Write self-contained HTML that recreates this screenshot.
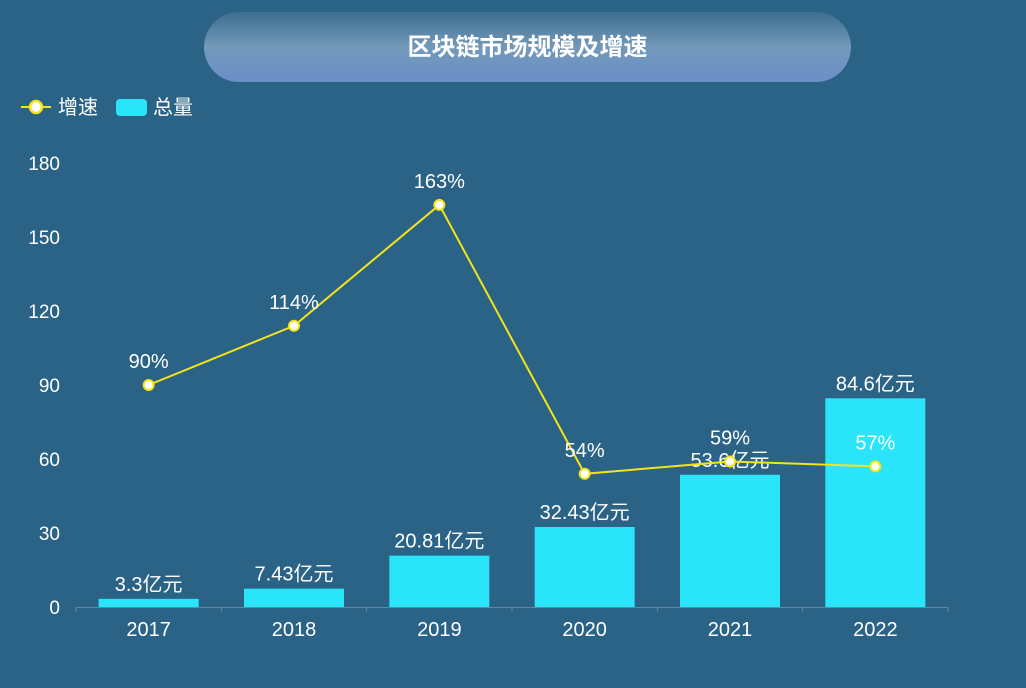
<!DOCTYPE html>
<html><head><meta charset="utf-8"><style>
body{margin:0;width:1026px;height:688px;background:#2a6385;overflow:hidden;font-family:"Liberation Sans","Noto Sans CJK SC",sans-serif}
#title{position:absolute;left:204px;top:12px;width:647px;height:70px;border-radius:35px;background:linear-gradient(180deg,#3c6e90 0%,#7399b9 50%,#6b8fc9 100%);color:#fff;font-size:24px;font-weight:bold;text-align:center;line-height:72px}
</style></head><body>
<div id="title">区块链市场规模及增速</div>
<svg id="c" width="1026" height="688" style="position:absolute;left:0;top:0"></svg>
<script>
const categories=["2017","2018","2019","2020","2021","2022"];
const totals=[3.3,7.43,20.81,32.43,53.6,84.6];
const growth=[90,114,163,54,59,57];
const yTicks=[0,30,60,90,120,150,180];
const NS="http://www.w3.org/2000/svg";
const svg=document.getElementById('c');
const x0=76,x1=948,y0=607,y1=163,yMax=180;
const band=(x1-x0)/categories.length;
const xc=i=>x0+band*(i+0.5);
const ys=v=>y0-(v/yMax)*(y0-y1);
function el(t,a,p){const e=document.createElementNS(NS,t);for(const k in a)e.setAttribute(k,a[k]);(p||svg).appendChild(e);return e;}
function txt(x,y,s,size,anchor){const t=el('text',{x:x,y:y,fill:'#fff','font-size':size,'text-anchor':anchor||'middle','font-family':'"Liberation Sans","Noto Sans CJK SC",sans-serif'});t.textContent=s;return t;}
// legend
const lg=el('g',{});


el('line',{x1:21,y1:107,x2:51,y2:107,stroke:'#f5e31a','stroke-width':2},lg);
el('circle',{cx:36,cy:107,r:6,fill:'#fff',stroke:'#f5e31a','stroke-width':2.5},lg);
const l1=txt(58,114,'增速',20,'start');lg.appendChild(l1);
el('rect',{x:116,y:99,width:31,height:17,rx:4,fill:'#2ae5fa'},lg);
const l2=txt(153,114,'总量',20,'start');lg.appendChild(l2);
// y ticks
yTicks.forEach(v=>{const t=txt(60,ys(v)+7,String(v),19,'end');});
// x axis
const ax=el('line',{x1:x0,y1:y0+0.5,x2:x1,y2:y0+0.5,stroke:'#5f88a8','stroke-width':1});


for(let i=0;i<=categories.length;i++){el('line',{x1:x0+band*i,y1:y0,x2:x0+band*i,y2:y0+5,stroke:'#5f88a8'});}
categories.forEach((c,i)=>{const t=txt(xc(i),636,c,20);});
// bars
totals.forEach((v,i)=>{
 const b=el('rect',{x:xc(i)-50,y:ys(v),width:100,height:y0-ys(v),fill:'#2ae5fa'});
 
 
 const t=txt(xc(i),ys(v)-8,v+'亿元',20);
 
 
});
// line
const pts=growth.map((v,i)=>xc(i)+','+ys(v)).join(' ');
const pl=el('polyline',{points:pts,fill:'none',stroke:'#f5e31a','stroke-width':2});


growth.forEach((v,i)=>{
 const p=el('circle',{cx:xc(i),cy:ys(v),r:5,fill:'#fff',stroke:'#f5e31a','stroke-width':2});
 
 
 const t=txt(xc(i),ys(v)-17,v+'%',20);
 
 
});
</script>
</body></html>
